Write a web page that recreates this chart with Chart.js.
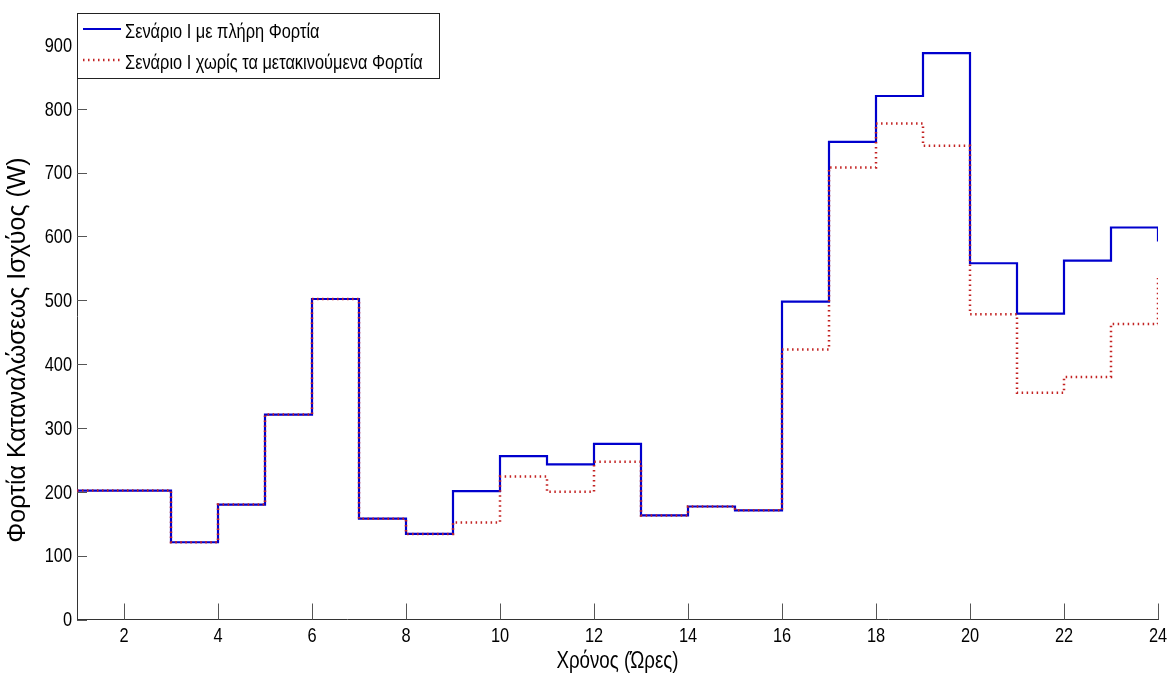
<!DOCTYPE html>
<html>
<head>
<meta charset="utf-8">
<script src="https://cdn.jsdelivr.net/npm/chart.js@4/dist/chart.umd.min.js"></script>
<style>
    html, body { margin: 0; padding: 0; background: #fff; }
    #wrap { width: 1176px; height: 680px; }
</style>
</head>
<body>
<div id="wrap"><canvas id="grafico" width="1176" height="680"></canvas></div>
<script>
// ώρες της ημέρας και κατανάλωση ισχύος (W) ανά ώρα
const ores = [1,2,3,4,5,6,7,8,9,10,11,12,13,14,15,16,17,18,19,20,21,22,23,24];
const fortiaPlires = [202,202,121,180,321,502,158,134,201,256,243,275,163,177,171,498,748,820,887,558,479,562,614,592];
const fortiaXorisMetak = [202,202,121,180,321,502,158,134,152,224,200,247,163,177,171,423,708,777,742,478,355,380,463,535];
const xTicks = [2,4,6,8,10,12,14,16,18,20,22,24];
const yTicks = [0,100,200,300,400,500,600,700,800,900];

const labelPlires = "Σενάριο Ι με πλήρη Φορτία";
const labelXoris = "Σενάριο Ι χωρίς τα μετακινούμενα Φορτία";
const titlosX = "Χρόνος (Ώρες)";
const titlosY = "Φορτία Καταναλώσεως Ισχύος (W)";

const fontSans = "'Liberation Sans', Arial, sans-serif";
const STENO = 0.78; // οριζόντια συμπίεση για στενή γραμματοσειρά

const toPoints = vals => vals.map((v, i) => ({ x: ores[i], y: v }));

// κείμενο με στενά γράμματα (δεν υπάρχει Arial Narrow)
function textNarrow(ctx, txt, x, y, size, align) {
    ctx.save();
    ctx.font = size + "px " + fontSans;
    ctx.textBaseline = 'middle';
    const w = ctx.measureText(txt).width * STENO;
    let x0 = x;
    if (align === 'center') x0 = x - w / 2;
    else if (align === 'right') x0 = x - w;
    ctx.translate(x0, y);
    ctx.scale(STENO, 1);
    ctx.textAlign = 'left';
    ctx.fillText(txt, 0, 0);
    ctx.restore();
}

// τικ προς τα μέσα και ετικέτες αξόνων
const axesMatlab = {
    id: 'axesMatlab',
    afterDatasetsDraw(chart) {
        const { ctx, chartArea, scales } = chart;
        ctx.save();
        ctx.lineWidth = 1;
        ctx.strokeStyle = '#555';
        scales.x.ticks.forEach(t => {
            const px = Math.round(scales.x.getPixelForValue(t.value)) + 0.5;
            ctx.beginPath();
            ctx.moveTo(px, chartArea.bottom);
            ctx.lineTo(px, chartArea.bottom - 16);
            ctx.stroke();
        });
        scales.y.ticks.forEach(t => {
            const py = Math.round(scales.y.getPixelForValue(t.value)) + 0.5;
            ctx.beginPath();
            ctx.moveTo(chartArea.left, py);
            ctx.lineTo(chartArea.left + 10, py);
            ctx.stroke();
        });
        ctx.fillStyle = '#000';
        scales.x.ticks.forEach(t => {
            textNarrow(ctx, String(t.value), scales.x.getPixelForValue(t.value), chartArea.bottom + 17, 21, 'center');
        });
        scales.y.ticks.forEach(t => {
            textNarrow(ctx, String(t.value), chartArea.left - 5, scales.y.getPixelForValue(t.value) + 1, 21, 'right');
        });
        textNarrow(ctx, titlosX, (chartArea.left + chartArea.right) / 2, chartArea.bottom + 42, 24, 'center');

        // τίτλος άξονα y, κατακόρυφα
        ctx.save();
        ctx.translate(18, 350);
        ctx.rotate(-Math.PI / 2);
        ctx.font = "25px " + fontSans;
        ctx.textAlign = 'center';
        ctx.textBaseline = 'middle';
        ctx.fillText(titlosY, 0, 0);
        ctx.restore();
        ctx.restore();
    }
};

// υπόμνημα με πλαίσιο πάνω αριστερά
const legendBox = {
    id: 'legendBox',
    afterDraw(chart) {
        const { ctx, chartArea } = chart;
        const x0 = chartArea.left, y0 = 13, w = 362, h = 65;
        ctx.save();
        ctx.fillStyle = '#fff';
        ctx.fillRect(x0, y0, w, h);
        ctx.strokeStyle = '#222';
        ctx.lineWidth = 1;
        ctx.strokeRect(x0 + 0.5, y0 + 0.5, w, h);
        const rows = [chart.data.datasets[1], chart.data.datasets[0]];
        rows.forEach((ds, i) => {
            const ly = y0 + 16 + i * 31;
            ctx.beginPath();
            ctx.strokeStyle = ds.borderColor;
            ctx.lineWidth = ds.borderWidth;
            ctx.setLineDash(ds.borderDash || []);
            ctx.moveTo(x0 + 6, ly);
            ctx.lineTo(x0 + 44, ly);
            ctx.stroke();
            ctx.setLineDash([]);
            ctx.fillStyle = '#000';
            textNarrow(ctx, ds.label, x0 + 48, ly + 3, 21, 'left');
        });
        ctx.restore();
    }
};

new Chart(document.getElementById('grafico'), {
    type: 'line',
    data: {
        datasets: [
            {
                label: labelXoris,
                data: toPoints(fortiaXorisMetak),
                borderColor: 'rgb(195,35,35)',
                borderWidth: 2.5,
                borderDash: [1.5, 3.5],
                stepped: true,
                pointRadius: 0,
                fill: false,
                order: 0
            },
            {
                label: labelPlires,
                data: toPoints(fortiaPlires),
                borderColor: 'rgb(0,0,205)',
                borderWidth: 2.2,
                stepped: true,
                pointRadius: 0,
                fill: false,
                order: 1
            }
        ]
    },
    options: {
        responsive: false,
        animation: false,
        layout: { padding: { left: 0, top: 13, right: 18, bottom: 0 } },
        plugins: { legend: { display: false }, tooltip: { enabled: false } },
        scales: {
            x: {
                type: 'linear',
                min: 1,
                max: 24,
                afterBuildTicks: s => { s.ticks = xTicks.map(v => ({ value: v })); },
                afterFit: s => { s.height = 60.5; },
                grid: { display: true, drawOnChartArea: false, drawTicks: false },
                border: { display: true, color: '#333', width: 1 },
                ticks: { display: false }
            },
            y: {
                min: 0,
                max: 950,
                afterBuildTicks: s => { s.ticks = yTicks.map(v => ({ value: v })); },
                afterFit: s => { s.width = 77; },
                grid: { display: true, drawOnChartArea: false, drawTicks: false },
                border: { display: true, color: '#333', width: 1 },
                ticks: { display: false }
            }
        }
    },
    plugins: [axesMatlab, legendBox]
});
</script>
</body>
</html>
